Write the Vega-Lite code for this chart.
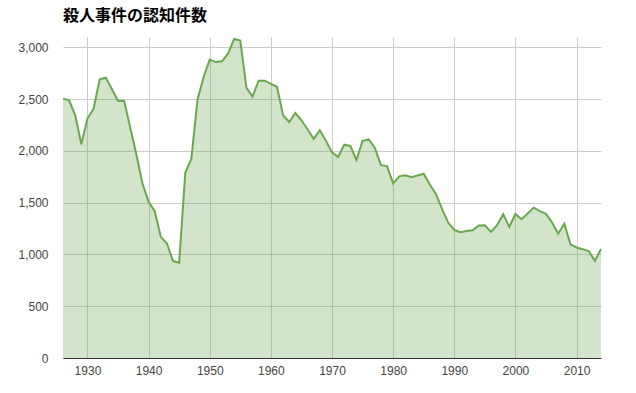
{
  "$schema": "https://vega.github.io/schema/vega-lite/v6.json",
  "width": 538,
  "height": 321,
  "autosize": {"type": "none"},
  "padding": {"left": 63, "top": 37, "right": 35, "bottom": 35},
  "background": "white",
  "title": {
    "text": "殺人事件の認知件数",
    "anchor": "start",
    "frame": "group",
    "font": "Noto Sans CJK JP",
    "fontSize": 16,
    "fontWeight": "bold",
    "color": "#000000",
    "offset": 11
  },
  "config": {
    "view": {"stroke": null},
    "axis": {
      "labelFont": "Liberation Sans",
      "labelFontSize": 12,
      "labelColor": "#444444",
      "gridColor": "#cccccc",
      "gridWidth": 1,
      "ticks": false,
      "title": null
    }
  },
  "data": {
    "values": [
      {"year": 1926, "count": 2505},
      {"year": 1927, "count": 2489},
      {"year": 1928, "count": 2344},
      {"year": 1929, "count": 2064},
      {"year": 1930, "count": 2312},
      {"year": 1931, "count": 2408},
      {"year": 1932, "count": 2691},
      {"year": 1933, "count": 2707},
      {"year": 1934, "count": 2598},
      {"year": 1935, "count": 2482},
      {"year": 1936, "count": 2485},
      {"year": 1937, "count": 2224},
      {"year": 1938, "count": 1968},
      {"year": 1939, "count": 1685},
      {"year": 1940, "count": 1508},
      {"year": 1941, "count": 1418},
      {"year": 1942, "count": 1170},
      {"year": 1943, "count": 1106},
      {"year": 1944, "count": 936},
      {"year": 1945, "count": 920},
      {"year": 1946, "count": 1788},
      {"year": 1947, "count": 1926},
      {"year": 1948, "count": 2495},
      {"year": 1949, "count": 2714},
      {"year": 1950, "count": 2882},
      {"year": 1951, "count": 2858},
      {"year": 1952, "count": 2865},
      {"year": 1953, "count": 2939},
      {"year": 1954, "count": 3081},
      {"year": 1955, "count": 3066},
      {"year": 1956, "count": 2611},
      {"year": 1957, "count": 2524},
      {"year": 1958, "count": 2678},
      {"year": 1959, "count": 2678},
      {"year": 1960, "count": 2648},
      {"year": 1961, "count": 2619},
      {"year": 1962, "count": 2344},
      {"year": 1963, "count": 2279},
      {"year": 1964, "count": 2366},
      {"year": 1965, "count": 2296},
      {"year": 1966, "count": 2209},
      {"year": 1967, "count": 2116},
      {"year": 1968, "count": 2199},
      {"year": 1969, "count": 2097},
      {"year": 1970, "count": 1986},
      {"year": 1971, "count": 1941},
      {"year": 1972, "count": 2060},
      {"year": 1973, "count": 2048},
      {"year": 1974, "count": 1912},
      {"year": 1975, "count": 2098},
      {"year": 1976, "count": 2111},
      {"year": 1977, "count": 2031},
      {"year": 1978, "count": 1862},
      {"year": 1979, "count": 1853},
      {"year": 1980, "count": 1684},
      {"year": 1981, "count": 1754},
      {"year": 1982, "count": 1764},
      {"year": 1983, "count": 1745},
      {"year": 1984, "count": 1762},
      {"year": 1985, "count": 1780},
      {"year": 1986, "count": 1676},
      {"year": 1987, "count": 1584},
      {"year": 1988, "count": 1441},
      {"year": 1989, "count": 1308},
      {"year": 1990, "count": 1238},
      {"year": 1991, "count": 1215},
      {"year": 1992, "count": 1227},
      {"year": 1993, "count": 1233},
      {"year": 1994, "count": 1279},
      {"year": 1995, "count": 1281},
      {"year": 1996, "count": 1218},
      {"year": 1997, "count": 1282},
      {"year": 1998, "count": 1388},
      {"year": 1999, "count": 1265},
      {"year": 2000, "count": 1391},
      {"year": 2001, "count": 1340},
      {"year": 2002, "count": 1396},
      {"year": 2003, "count": 1452},
      {"year": 2004, "count": 1419},
      {"year": 2005, "count": 1392},
      {"year": 2006, "count": 1309},
      {"year": 2007, "count": 1199},
      {"year": 2008, "count": 1297},
      {"year": 2009, "count": 1097},
      {"year": 2010, "count": 1067},
      {"year": 2011, "count": 1051},
      {"year": 2012, "count": 1032},
      {"year": 2013, "count": 938},
      {"year": 2014, "count": 1054}
    ]
  },
  "encoding": {
    "x": {
      "field": "year",
      "type": "quantitative",
      "scale": {"domain": [1926, 2014], "nice": false, "zero": false},
      "axis": {
        "values": [1930, 1940, 1950, 1960, 1970, 1980, 1990, 2000, 2010],
        "format": "d",
        "labelPadding": 7,
        "domainColor": "#333333",
        "domainWidth": 1
      }
    },
    "y": {
      "field": "count",
      "type": "quantitative",
      "scale": {"domain": [0, 3100], "nice": false},
      "axis": {
        "values": [0, 500, 1000, 1500, 2000, 2500, 3000],
        "format": ",d",
        "domain": false,
        "labelPadding": 15
      }
    }
  },
  "layer": [
    {
      "mark": {"type": "area", "color": "#6aa84f", "fillOpacity": 0.3}
    },
    {
      "mark": {"type": "line", "color": "#6aa84f", "strokeWidth": 2}
    }
  ]
}
